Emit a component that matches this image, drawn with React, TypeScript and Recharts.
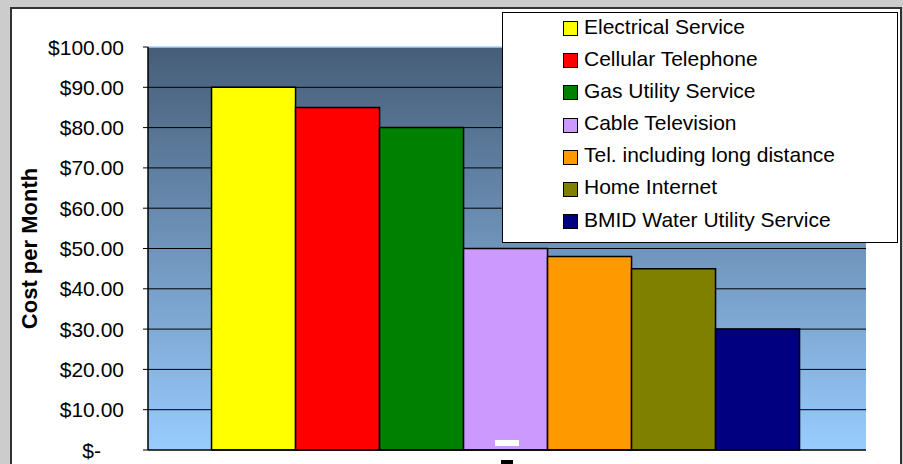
import React from 'react';
import {
  BarChart,
  Bar,
  XAxis,
  YAxis,
  CartesianGrid,
  Legend,
  ReferenceLine,
} from 'recharts';

// Monthly cost per service
const services = [
  'Electrical Service',
  'Cellular Telephone',
  'Gas Utility Service',
  'Cable Television',
  'Tel. including long distance',
  'Home Internet',
  'BMID Water Utility Service',
];
const costs = [90, 85, 80, 50, 48, 45, 30];
const colors = ['#ffff00', '#ff0000', '#008000', '#cc99ff', '#ff9900', '#808000', '#000080'];
const yTicks = [0, 10, 20, 30, 40, 50, 60, 70, 80, 90, 100];
const category = 'Cost';

const keys = services.map((_, i) => `s${i}`);
const row: Record<string, string | number> = { name: category };
keys.forEach((k, i) => {
  row[k] = costs[i];
});
const data = [row];

const FONT = 'Arial, "Liberation Sans", sans-serif';

const YTick = (props: any) => {
  const { x, y, payload } = props;
  const v = payload.value as number;
  const label = v === 0 ? '$-' : `$${v.toFixed(2)}`;
  return (
    <text
      x={x}
      y={y}
      dx={v === 0 ? -23 : 0}
      dy={7.5}
      textAnchor="end"
      fontSize={21}
      fontFamily={FONT}
      fill="#000"
    >
      {label}
    </text>
  );
};

// the two little leftover marks around the category label
const XTick = (props: any) => {
  const { x, y } = props;
  return (
    <g>
      <rect x={x - 12} y={y - 18} width={24} height={6} fill="#fff" />
      <rect x={x - 6} y={y + 2} width={12} height={8} fill="#000" />
    </g>
  );
};

const LegendBox = (props: any) => {
  // keep the series order, not the alphabetical one
  const payload = [...(props.payload || [])].sort(
    (a: any, b: any) => services.indexOf(a.value) - services.indexOf(b.value)
  );
  return (
    <div
      style={{
        width: 396,
        height: 231,
        boxSizing: 'border-box',
        border: '1px solid #000',
        background: '#fff',
        fontFamily: FONT,
        fontSize: 21,
        color: '#000',
      }}
    >
      <div style={{ position: 'relative', top: -2.4 }}>
        {payload.map((p: any, i: number) => (
          <div
            key={i}
            style={{ position: 'relative', height: 32.17, lineHeight: '32.17px', paddingLeft: 81, whiteSpace: 'nowrap' }}
          >
            <span
              style={{
                position: 'absolute',
                left: 60,
                top: 10.5,
                width: 15,
                height: 15,
                boxSizing: 'border-box',
                border: '1.5px solid #000',
                background: p.color,
              }}
            />
            {p.value}
          </div>
        ))}
      </div>
    </div>
  );
};

export default function App() {
  return (
    <div
      style={{
        position: 'absolute',
        left: 0,
        top: 0,
        width: 903,
        height: 464,
        background: '#cccccc',
        overflow: 'hidden',
      }}
    >
      <svg width={0} height={0} style={{ position: 'absolute' }}>
        <defs>
          <linearGradient id="plotBg" x1="0" y1="0" x2="0" y2="1">
            <stop offset="0%" stopColor="#465d77" />
            <stop offset="100%" stopColor="#99ccff" />
          </linearGradient>
        </defs>
      </svg>
      <div
        style={{
          position: 'absolute',
          left: 10,
          top: 7,
          width: 888,
          height: 480,
          background: '#fff',
          borderLeft: '2px solid #333',
          borderTop: '2px solid #333',
          borderRight: '2px solid #333',
        }}
      />
      <div style={{ position: 'absolute', left: 0, top: 0 }}>
        <BarChart
          width={903}
          height={464}
          data={data}
          margin={{ top: 47, right: 37, bottom: 0, left: 0 }}
          barCategoryGap="8.85%"
          barGap={0}
        >
          <CartesianGrid
            vertical={false}
            stroke="#000"
            strokeWidth={1}
            fill="url(#plotBg)"
            fillOpacity={1}
            horizontalValues={yTicks.filter((t) => t > 0 && t < 100)}
          />
          <ReferenceLine y={100} stroke="#a6d2ff" strokeWidth={1.5} />
          {keys.map((k, i) => (
            <Bar
              key={k}
              dataKey={k}
              name={services[i]}
              fill={colors[i]}
              stroke="#000"
              strokeWidth={1.5}
              isAnimationActive={false}
            />
          ))}
          <XAxis
            dataKey="name"
            height={14}
            axisLine={{ stroke: '#000', strokeWidth: 1.5 }}
            tickLine={false}
            tick={<XTick />}
            interval={0}
          />
          <YAxis
            width={148}
            domain={[0, 100]}
            ticks={yTicks}
            interval={0}
            tickSize={5}
            tickMargin={19}
            axisLine={{ stroke: '#000', strokeWidth: 1.5 }}
            tickLine={{ stroke: '#000' }}
            tick={<YTick />}
            label={{
              value: 'Cost per Month',
              angle: -90,
              position: 'insideLeft',
              offset: 29,
              style: { textAnchor: 'middle', fontFamily: FONT, fontSize: 22, fontWeight: 'bold', fill: '#000' },
            }}
          />
          <Legend
            layout="vertical"
            align="center"
            verticalAlign="middle"
            content={<LegendBox />}
            wrapperStyle={{ position: 'absolute', left: 502, top: 12, width: 396, height: 231 }}
          />
        </BarChart>
      </div>
    </div>
  );
}
